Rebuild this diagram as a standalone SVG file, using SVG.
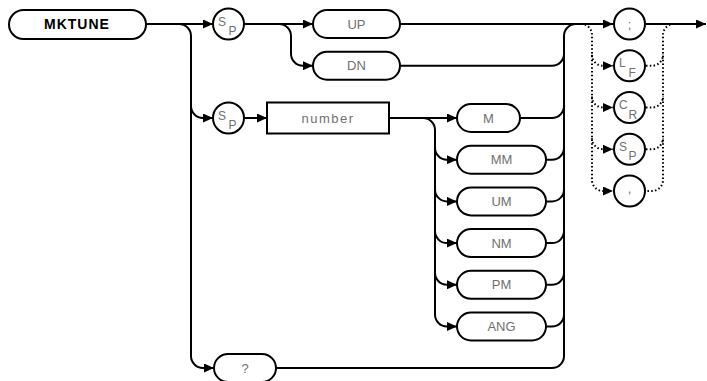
<svg xmlns="http://www.w3.org/2000/svg" width="707" height="381" viewBox="0 0 707 381">
<defs>
<marker id="arr" markerUnits="userSpaceOnUse" markerWidth="10" markerHeight="9" refX="10" refY="4.5" orient="auto">
<path d="M0,0 L10,4.5 L0,9 z" fill="#000"/>
</marker>
</defs>
<style>
.box{fill:#fff;stroke:#000;stroke-width:2}
.ln{fill:none;stroke:#000;stroke-width:2}
.dot{fill:none;stroke:#000;stroke-width:2;stroke-dasharray:1.5 2.3}
.lbl{font-family:"Liberation Sans",Arial,sans-serif;font-size:13px;fill:#707070;text-anchor:middle}
.sub{font-family:"Liberation Sans",Arial,sans-serif;font-size:12px;fill:#707070}
.kw{font-family:"Liberation Sans",Arial,sans-serif;font-size:14px;font-weight:bold;fill:#000;text-anchor:middle;letter-spacing:1px}
</style>
<rect width="707" height="381" fill="#fff"/>
<g id="connectors">
<path class="ln" d="M146,24 H213" marker-end="url(#arr)"/>
<path class="ln" d="M179,24 A12,12 0 0 1 191,36 V356 A12,12 0 0 0 203,368 H214" marker-end="url(#arr)"/>
<path class="ln" d="M191,106 A12,12 0 0 0 203,118 H213" marker-end="url(#arr)"/>
<path class="ln" d="M244,24 H313" marker-end="url(#arr)"/>
<path class="ln" d="M279,24 A12,12 0 0 1 291,36 V53.75 A12,12 0 0 0 303,65.75 H313" marker-end="url(#arr)"/>
<path class="ln" d="M400,24 H613" marker-end="url(#arr)"/>
<path class="ln" d="M244,118 H267" marker-end="url(#arr)"/>
<path class="ln" d="M389,118 H457" marker-end="url(#arr)"/>
<path class="ln" d="M423,118 A12,12 0 0 1 435,130 V314.5 A12,12 0 0 0 447,326.5 H457" marker-end="url(#arr)"/>
<path class="ln" d="M435,147.7 A12,12 0 0 0 447,159.7 H457" marker-end="url(#arr)"/>
<path class="ln" d="M435,189.4 A12,12 0 0 0 447,201.4 H457" marker-end="url(#arr)"/>
<path class="ln" d="M435,231.1 A12,12 0 0 0 447,243.1 H457" marker-end="url(#arr)"/>
<path class="ln" d="M435,272.8 A12,12 0 0 0 447,284.8 H457" marker-end="url(#arr)"/>
<path class="ln" d="M576,24 A12,12 0 0 0 564,36 V356 A12,12 0 0 1 552,368 H276"/>
<path class="ln" d="M400,65.75 H552 A12,12 0 0 0 564,53.75"/>
<path class="ln" d="M520,118 H552 A12,12 0 0 0 564,106"/>
<path class="ln" d="M546,159.7 H552 A12,12 0 0 0 564,147.7"/>
<path class="ln" d="M546,201.4 H552 A12,12 0 0 0 564,189.4"/>
<path class="ln" d="M546,243.1 H552 A12,12 0 0 0 564,231.1"/>
<path class="ln" d="M546,284.8 H552 A12,12 0 0 0 564,272.8"/>
<path class="ln" d="M546,326.5 H552 A12,12 0 0 0 564,314.5"/>
<path class="ln" d="M646,24 H706" marker-end="url(#arr)"/>
<path class="dot" d="M581,24 A11,11 0 0 1 592,35 V180 A11,11 0 0 0 603,191 H613" marker-end="url(#arr)"/>
<path class="dot" d="M592,54.75 A11,11 0 0 0 603,65.75 H613" marker-end="url(#arr)"/>
<path class="dot" d="M592,96.5 A11,11 0 0 0 603,107.5 H613" marker-end="url(#arr)"/>
<path class="dot" d="M592,138.25 A11,11 0 0 0 603,149.25 H613" marker-end="url(#arr)"/>
<path class="dot" d="M674,24 A11,11 0 0 0 663,35 V180 A11,11 0 0 1 652,191 H646"/>
<path class="dot" d="M646,65.75 H652 A11,11 0 0 0 663,54.75"/>
<path class="dot" d="M646,107.5 H652 A11,11 0 0 0 663,96.5"/>
<path class="dot" d="M646,149.25 H652 A11,11 0 0 0 663,138.25"/>
</g>
<g id="n-mktune"><rect class="box" x="9" y="10" width="137" height="29" rx="14.5"/><text class="kw" x="77" y="29">MKTUNE</text></g>
<g id="n-sp1"><circle class="box" cx="228.5" cy="24" r="15.5"/><text class="sub" x="218" y="25.5">S</text><text class="sub" x="228.5" y="35">P</text></g>
<g id="n-up"><rect class="box" x="313" y="10" width="87" height="28" rx="14"/><text class="lbl" x="356.5" y="28.6">UP</text></g>
<g id="n-dn"><rect class="box" x="313" y="51.75" width="87" height="28" rx="14"/><text class="lbl" x="356.5" y="70.4">DN</text></g>
<g id="n-sp2"><circle class="box" cx="228.5" cy="118" r="15.5"/><text class="sub" x="218" y="119.5">S</text><text class="sub" x="228.5" y="129">P</text></g>
<g id="n-number"><rect class="box" x="267" y="102.5" width="122" height="31"/><text class="lbl" x="328" y="122.6" style="letter-spacing:1.5px">number</text></g>
<g id="n-m"><rect class="box" x="457" y="104" width="63" height="28" rx="14"/><text class="lbl" x="488.5" y="122.6">M</text></g>
<g id="n-mm"><rect class="box" x="457" y="145.7" width="89" height="28" rx="14"/><text class="lbl" x="501.5" y="164.3">MM</text></g>
<g id="n-um"><rect class="box" x="457" y="187.4" width="89" height="28" rx="14"/><text class="lbl" x="501.5" y="206">UM</text></g>
<g id="n-nm"><rect class="box" x="457" y="229.1" width="89" height="28" rx="14"/><text class="lbl" x="501.5" y="247.7">NM</text></g>
<g id="n-pm"><rect class="box" x="457" y="270.8" width="89" height="28" rx="14"/><text class="lbl" x="501.5" y="289.4">PM</text></g>
<g id="n-ang"><rect class="box" x="457" y="312.5" width="89" height="28" rx="14"/><text class="lbl" x="501.5" y="331.1">ANG</text></g>
<g id="n-query"><rect class="box" x="214" y="354" width="62" height="28" rx="14"/><text class="lbl" x="245" y="372.6">?</text></g>
<g id="n-semi"><circle class="box" cx="629.5" cy="24" r="15.5"/><text class="lbl" x="629.5" y="29">;</text></g>
<g id="n-lf"><circle class="box" cx="629.5" cy="65.75" r="15.5"/><text class="sub" x="619" y="67.25">L</text><text class="sub" x="628.5" y="76.75">F</text></g>
<g id="n-cr"><circle class="box" cx="629.5" cy="107.5" r="15.5"/><text class="sub" x="619" y="109">C</text><text class="sub" x="628.5" y="118.5">R</text></g>
<g id="n-sp3"><circle class="box" cx="629.5" cy="149.25" r="15.5"/><text class="sub" x="619" y="150.75">S</text><text class="sub" x="628.5" y="160.25">P</text></g>
<g id="n-comma"><circle class="box" cx="629.5" cy="191" r="15.5"/><text class="lbl" x="629.5" y="193">,</text></g>
</svg>
